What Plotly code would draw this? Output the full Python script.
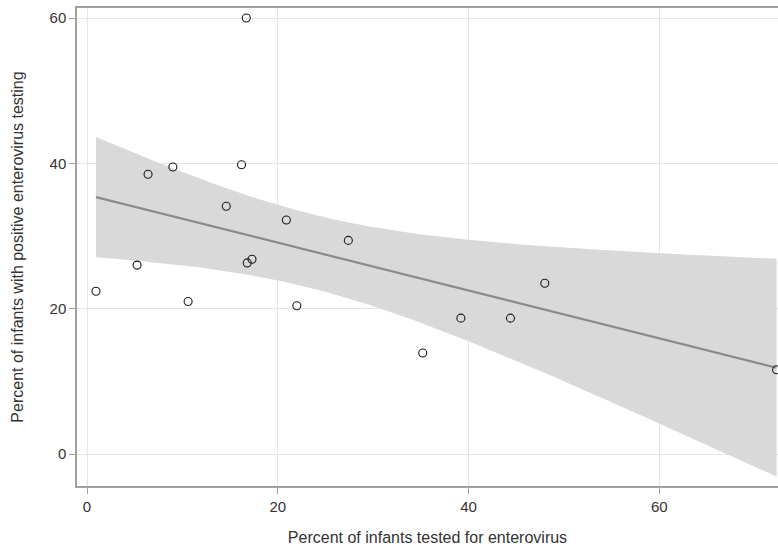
import numpy as np
import plotly.graph_objects as go

# Data
pct_tested = [0.94, 5.25, 6.4, 9.0, 10.6, 14.6, 16.2, 16.7, 16.8, 17.3,
              20.9, 22.0, 27.4, 35.2, 39.2, 44.4, 48.0, 72.3]
pct_positive = [22.4, 26.0, 38.5, 39.5, 21.0, 34.1, 39.8, 60.0, 26.3, 26.8,
                32.2, 20.4, 29.4, 13.9, 18.7, 18.7, 23.5, 11.6]
x_ticks = [0, 20, 40, 60]
y_ticks = [0, 20, 40, 60]
T_CRIT = 2.1199  # t(0.975, df=16)

# Linear fit with 95% CI of the mean (as Stata lfitci)
x = np.array(pct_tested)
y = np.array(pct_positive)
n = len(x)
slope, intercept = np.polyfit(x, y, 1)
resid = y - (intercept + slope * x)
s = np.sqrt(np.sum(resid ** 2) / (n - 2))
sxx = np.sum((x - x.mean()) ** 2)
xg = np.linspace(x.min(), x.max(), 200)
fit = intercept + slope * xg
se = s * np.sqrt(1.0 / n + (xg - x.mean()) ** 2 / sxx)
upper = fit + T_CRIT * se
lower = fit - T_CRIT * se

fig = go.Figure()
fig.add_trace(go.Scatter(
    x=np.concatenate([xg, xg[::-1]]), y=np.concatenate([upper, lower[::-1]]),
    fill="toself", fillcolor="#d9d9d9", line=dict(width=0), mode="lines",
    hoverinfo="skip", showlegend=False))
fig.add_trace(go.Scatter(
    x=xg, y=fit, mode="lines", line=dict(color="#8a8a8a", width=2.2),
    showlegend=False))
fig.add_trace(go.Scatter(
    x=pct_tested, y=pct_positive, mode="markers",
    marker=dict(symbol="circle-open", size=8, color="#1a1a1a",
                line=dict(width=1.1, color="#1a1a1a")),
    showlegend=False, cliponaxis=False))

font = dict(family="Liberation Sans, Arial, sans-serif", size=15, color="#333333")
fig.update_layout(
    width=778, height=551,
    margin=dict(l=77, r=0, t=8, b=65, autoexpand=False),
    paper_bgcolor="white", plot_bgcolor="white",
    font=font,
    xaxis=dict(range=[-1.05, 72.45], tickvals=x_ticks, ticks="outside",
               ticklen=6, tickcolor="#a0a0a0", showgrid=True,
               gridcolor="#e6e6e6", gridwidth=1, zeroline=False,
               showline=True, linecolor="#a0a0a0", linewidth=1.5, mirror=True,
               automargin=False,
               title=dict(text="Percent of infants tested for enterovirus",
                          font=dict(size=16, color="#333333"), standoff=18)),
    yaxis=dict(range=[-4.4, 61.38], tickvals=y_ticks, ticks="outside",
               ticklen=6, tickcolor="#a0a0a0", showgrid=True,
               gridcolor="#e6e6e6", gridwidth=1, zeroline=False,
               showline=True, linecolor="#a0a0a0", linewidth=1.5,
               automargin=False,
               title=dict(text="Percent of infants with positive enterovirus testing",
                          font=dict(size=16, color="#333333"), standoff=22)),
)
fig.write_html("out.html", config={"displayModeBar": False},
               post_script="document.body.style.margin='0';"
                           "document.body.style.overflow='hidden';")
